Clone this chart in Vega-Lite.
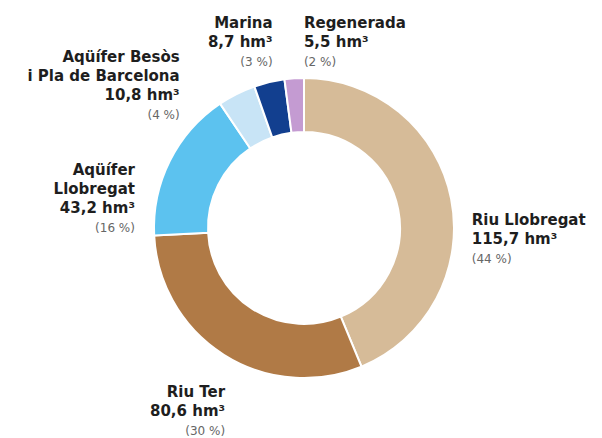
{
  "$schema": "https://vega.github.io/schema/vega-lite/v6.json",
  "autosize": {"type": "none"},
  "width": 596,
  "height": 420,
  "padding": {"left": 6, "top": 18, "right": 0, "bottom": 0},
  "background": "white",
  "config": {"view": {"stroke": null}},
  "data": {
    "values": [
      {"cat": "Riu Llobregat", "value": 115.7, "order": 1, "label": "Riu Llobregat\n115,7 hm³", "pct": "(44 %)"},
      {"cat": "Riu Ter", "value": 80.6, "order": 2, "label": "Riu Ter\n80,6 hm³", "pct": "(30 %)"},
      {"cat": "Aqüífer Llobregat", "value": 43.2, "order": 3, "label": "Aqüífer\nLlobregat\n43,2 hm³", "pct": "(16 %)"},
      {"cat": "Aqüífer Besòs i Pla de Barcelona", "value": 10.8, "order": 4, "label": "Aqüífer Besòs\ni Pla de Barcelona\n10,8 hm³", "pct": "(4 %)"},
      {"cat": "Marina", "value": 8.7, "order": 5, "label": "Marina\n8,7 hm³", "pct": "(3 %)"},
      {"cat": "Regenerada", "value": 5.5, "order": 6, "label": "Regenerada\n5,5 hm³", "pct": "(2 %)"}
    ]
  },
  "transform": [
    {"stack": "value", "groupby": [], "sort": [{"field": "order", "order": "ascending"}], "as": ["s0", "s1"]},
    {"calculate": "(datum.s0 + datum.s1) / 2", "as": "mid"}
  ],
  "layer": [
    {
      "mark": {"type": "arc", "radius": 150, "innerRadius": 96, "stroke": "white", "strokeWidth": 2},
      "encoding": {
        "theta": {"field": "s0", "type": "quantitative", "scale": {"domain": [0, 264.5]}},
        "theta2": {"field": "s1"},
        "color": {
          "field": "cat", "type": "nominal", "legend": null,
          "scale": {
            "domain": ["Riu Llobregat", "Riu Ter", "Aqüífer Llobregat", "Aqüífer Besòs i Pla de Barcelona", "Marina", "Regenerada"],
            "range": ["#d6bb98", "#b07a46", "#5cc2ef", "#c8e4f6", "#123f8f", "#c49bd2"]
          }
        }
      }
    },
    {
      "transform": [{"filter": "datum.cat === 'Riu Llobregat'"}],
      "mark": {"type": "text", "radius": 170, "align": "left", "baseline": "alphabetic", "dx": 1, "dy": 30, "lineBreak": "\n", "lineHeight": 19, "font": "DejaVu Sans", "fontWeight": "bold", "fontSize": 15, "color": "#1e1e1e"},
      "encoding": {"theta": {"field": "mid", "type": "quantitative", "scale": {"domain": [0, 264.5]}}, "text": {"field": "label"}}
    },
    {
      "transform": [{"filter": "datum.cat === 'Riu Llobregat'"}],
      "mark": {"type": "text", "radius": 170, "align": "left", "baseline": "alphabetic", "dx": 1, "dy": 68, "font": "DejaVu Sans", "fontSize": 12, "color": "#666666"},
      "encoding": {"theta": {"field": "mid", "type": "quantitative", "scale": {"domain": [0, 264.5]}}, "text": {"field": "pct"}}
    },
    {
      "transform": [{"filter": "datum.cat === 'Riu Ter'"}],
      "mark": {"type": "text", "radius": 170, "align": "right", "baseline": "alphabetic", "dx": 12, "dy": 25, "lineBreak": "\n", "lineHeight": 19, "font": "DejaVu Sans", "fontWeight": "bold", "fontSize": 15, "color": "#1e1e1e"},
      "encoding": {"theta": {"field": "mid", "type": "quantitative", "scale": {"domain": [0, 264.5]}}, "text": {"field": "label"}}
    },
    {
      "transform": [{"filter": "datum.cat === 'Riu Ter'"}],
      "mark": {"type": "text", "radius": 170, "align": "right", "baseline": "alphabetic", "dx": 12, "dy": 63, "font": "DejaVu Sans", "fontSize": 12, "color": "#666666"},
      "encoding": {"theta": {"field": "mid", "type": "quantitative", "scale": {"domain": [0, 264.5]}}, "text": {"field": "pct"}}
    },
    {
      "transform": [{"filter": "datum.cat === 'Aqüífer Llobregat'"}],
      "mark": {"type": "text", "radius": 170, "align": "right", "baseline": "alphabetic", "dx": -17, "dy": 23, "lineBreak": "\n", "lineHeight": 19, "font": "DejaVu Sans", "fontWeight": "bold", "fontSize": 15, "color": "#1e1e1e"},
      "encoding": {"theta": {"field": "mid", "type": "quantitative", "scale": {"domain": [0, 264.5]}}, "text": {"field": "label"}}
    },
    {
      "transform": [{"filter": "datum.cat === 'Aqüífer Llobregat'"}],
      "mark": {"type": "text", "radius": 170, "align": "right", "baseline": "alphabetic", "dx": -17, "dy": 80, "font": "DejaVu Sans", "fontSize": 12, "color": "#666666"},
      "encoding": {"theta": {"field": "mid", "type": "quantitative", "scale": {"domain": [0, 264.5]}}, "text": {"field": "pct"}}
    },
    {
      "transform": [{"filter": "datum.cat === 'Aqüífer Besòs i Pla de Barcelona'"}],
      "mark": {"type": "text", "radius": 170, "align": "right", "baseline": "alphabetic", "dx": -48, "dy": -14, "lineBreak": "\n", "lineHeight": 19, "font": "DejaVu Sans", "fontWeight": "bold", "fontSize": 15, "color": "#1e1e1e"},
      "encoding": {"theta": {"field": "mid", "type": "quantitative", "scale": {"domain": [0, 264.5]}}, "text": {"field": "label"}}
    },
    {
      "transform": [{"filter": "datum.cat === 'Aqüífer Besòs i Pla de Barcelona'"}],
      "mark": {"type": "text", "radius": 170, "align": "right", "baseline": "alphabetic", "dx": -48, "dy": 43, "font": "DejaVu Sans", "fontSize": 12, "color": "#666666"},
      "encoding": {"theta": {"field": "mid", "type": "quantitative", "scale": {"domain": [0, 264.5]}}, "text": {"field": "pct"}}
    },
    {
      "transform": [{"filter": "datum.cat === 'Marina'"}],
      "mark": {"type": "text", "radius": 170, "align": "right", "baseline": "alphabetic", "dx": 8, "dy": -35, "lineBreak": "\n", "lineHeight": 19, "font": "DejaVu Sans", "fontWeight": "bold", "fontSize": 15, "color": "#1e1e1e"},
      "encoding": {"theta": {"field": "mid", "type": "quantitative", "scale": {"domain": [0, 264.5]}}, "text": {"field": "label"}}
    },
    {
      "transform": [{"filter": "datum.cat === 'Marina'"}],
      "mark": {"type": "text", "radius": 170, "align": "right", "baseline": "alphabetic", "dx": 8, "dy": 3, "font": "DejaVu Sans", "fontSize": 12, "color": "#666666"},
      "encoding": {"theta": {"field": "mid", "type": "quantitative", "scale": {"domain": [0, 264.5]}}, "text": {"field": "pct"}}
    },
    {
      "transform": [{"filter": "datum.cat === 'Regenerada'"}],
      "mark": {"type": "text", "radius": 170, "align": "left", "baseline": "alphabetic", "dx": 11, "dy": -30, "lineBreak": "\n", "lineHeight": 19, "font": "DejaVu Sans", "fontWeight": "bold", "fontSize": 15, "color": "#1e1e1e"},
      "encoding": {"theta": {"field": "mid", "type": "quantitative", "scale": {"domain": [0, 264.5]}}, "text": {"field": "label"}}
    },
    {
      "transform": [{"filter": "datum.cat === 'Regenerada'"}],
      "mark": {"type": "text", "radius": 170, "align": "left", "baseline": "alphabetic", "dx": 11, "dy": 8, "font": "DejaVu Sans", "fontSize": 12, "color": "#666666"},
      "encoding": {"theta": {"field": "mid", "type": "quantitative", "scale": {"domain": [0, 264.5]}}, "text": {"field": "pct"}}
    }
  ]
}
